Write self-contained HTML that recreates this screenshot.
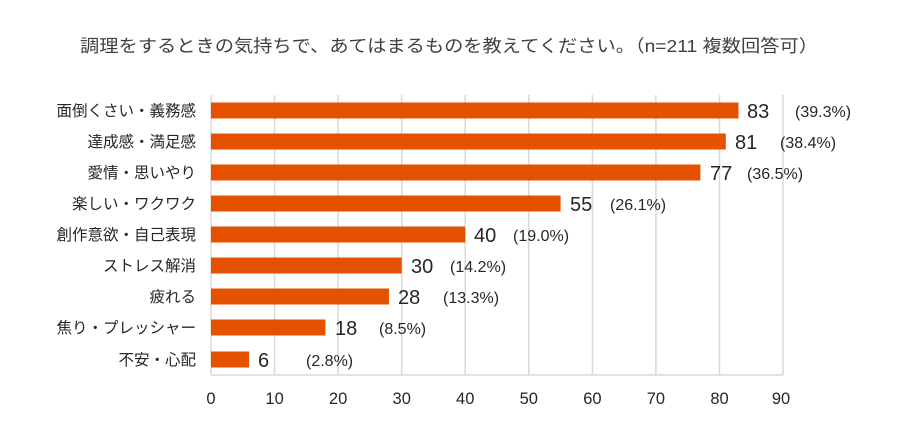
<!DOCTYPE html>
<html><head><meta charset="utf-8"><style>
body{margin:0;background:#fff;}
svg{display:block;font-family:"Liberation Sans","Noto Sans CJK JP",sans-serif;}
</style></head><body>
<svg width="900" height="425" viewBox="0 0 900 425" xmlns="http://www.w3.org/2000/svg">
<rect width="900" height="425" fill="#fff"/>
<text x="80" y="52" font-size="17.5" fill="#404040" textLength="738" lengthAdjust="spacingAndGlyphs">調理をするときの気持ちで、あてはまるものを教えてください。（n=211 複数回答可）</text>
<g stroke="#d9d9d9" stroke-width="1.5">
<line x1="274.6" y1="95" x2="274.6" y2="375"/>
<line x1="338.1" y1="95" x2="338.1" y2="375"/>
<line x1="401.7" y1="95" x2="401.7" y2="375"/>
<line x1="465.2" y1="95" x2="465.2" y2="375"/>
<line x1="528.8" y1="95" x2="528.8" y2="375"/>
<line x1="592.4" y1="95" x2="592.4" y2="375"/>
<line x1="655.9" y1="95" x2="655.9" y2="375"/>
<line x1="719.5" y1="95" x2="719.5" y2="375"/>
<line x1="783" y1="95" x2="783" y2="375"/>
<line x1="211" y1="95" x2="211" y2="375"/>
<line x1="211" y1="375" x2="783" y2="375"/>
</g>
<g fill="#e65100">
<rect x="211" y="102.5" width="527.5" height="16"/>
<rect x="211" y="133.5" width="514.8" height="16"/>
<rect x="211" y="164.5" width="489.4" height="16"/>
<rect x="211" y="195.5" width="349.6" height="16"/>
<rect x="211" y="226.5" width="254.2" height="16"/>
<rect x="211" y="257.5" width="190.7" height="16"/>
<rect x="211" y="288.5" width="178" height="16"/>
<rect x="211" y="319.5" width="114.4" height="16"/>
<rect x="211" y="351.5" width="38.1" height="16"/>
</g>
<g font-size="15.5" fill="#262626" text-anchor="end">
<text x="196" y="116">面倒くさい・義務感</text>
<text x="196" y="147">達成感・満足感</text>
<text x="196" y="178">愛情・思いやり</text>
<text x="196" y="209">楽しい・ワクワク</text>
<text x="196" y="240">創作意欲・自己表現</text>
<text x="196" y="271">ストレス解消</text>
<text x="196" y="302">疲れる</text>
<text x="196" y="333">焦り・プレッシャー</text>
<text x="196" y="365">不安・心配</text>
</g>
<g font-size="20" fill="#262626">
<text x="747" y="118">83</text>
<text x="735" y="149">81</text>
<text x="710" y="180">77</text>
<text x="570" y="211">55</text>
<text x="474" y="242">40</text>
<text x="411" y="273">30</text>
<text x="398" y="304">28</text>
<text x="335" y="335">18</text>
<text x="258" y="367">6</text>
</g>
<g font-size="16" fill="#262626">
<text x="795" y="117">(39.3%)</text>
<text x="780" y="148">(38.4%)</text>
<text x="747" y="179">(36.5%)</text>
<text x="610" y="210">(26.1%)</text>
<text x="513" y="241">(19.0%)</text>
<text x="450" y="272">(14.2%)</text>
<text x="443" y="303">(13.3%)</text>
<text x="379" y="334">(8.5%)</text>
<text x="306" y="366">(2.8%)</text>
</g>
<g font-size="16.5" fill="#262626" text-anchor="middle">
<text x="211" y="404">0</text>
<text x="274.6" y="404">10</text>
<text x="338.1" y="404">20</text>
<text x="401.7" y="404">30</text>
<text x="465.2" y="404">40</text>
<text x="528.8" y="404">50</text>
<text x="592.4" y="404">60</text>
<text x="655.9" y="404">70</text>
<text x="719.5" y="404">80</text>
<text x="781" y="404">90</text>
</g>
</svg>
</body></html>
